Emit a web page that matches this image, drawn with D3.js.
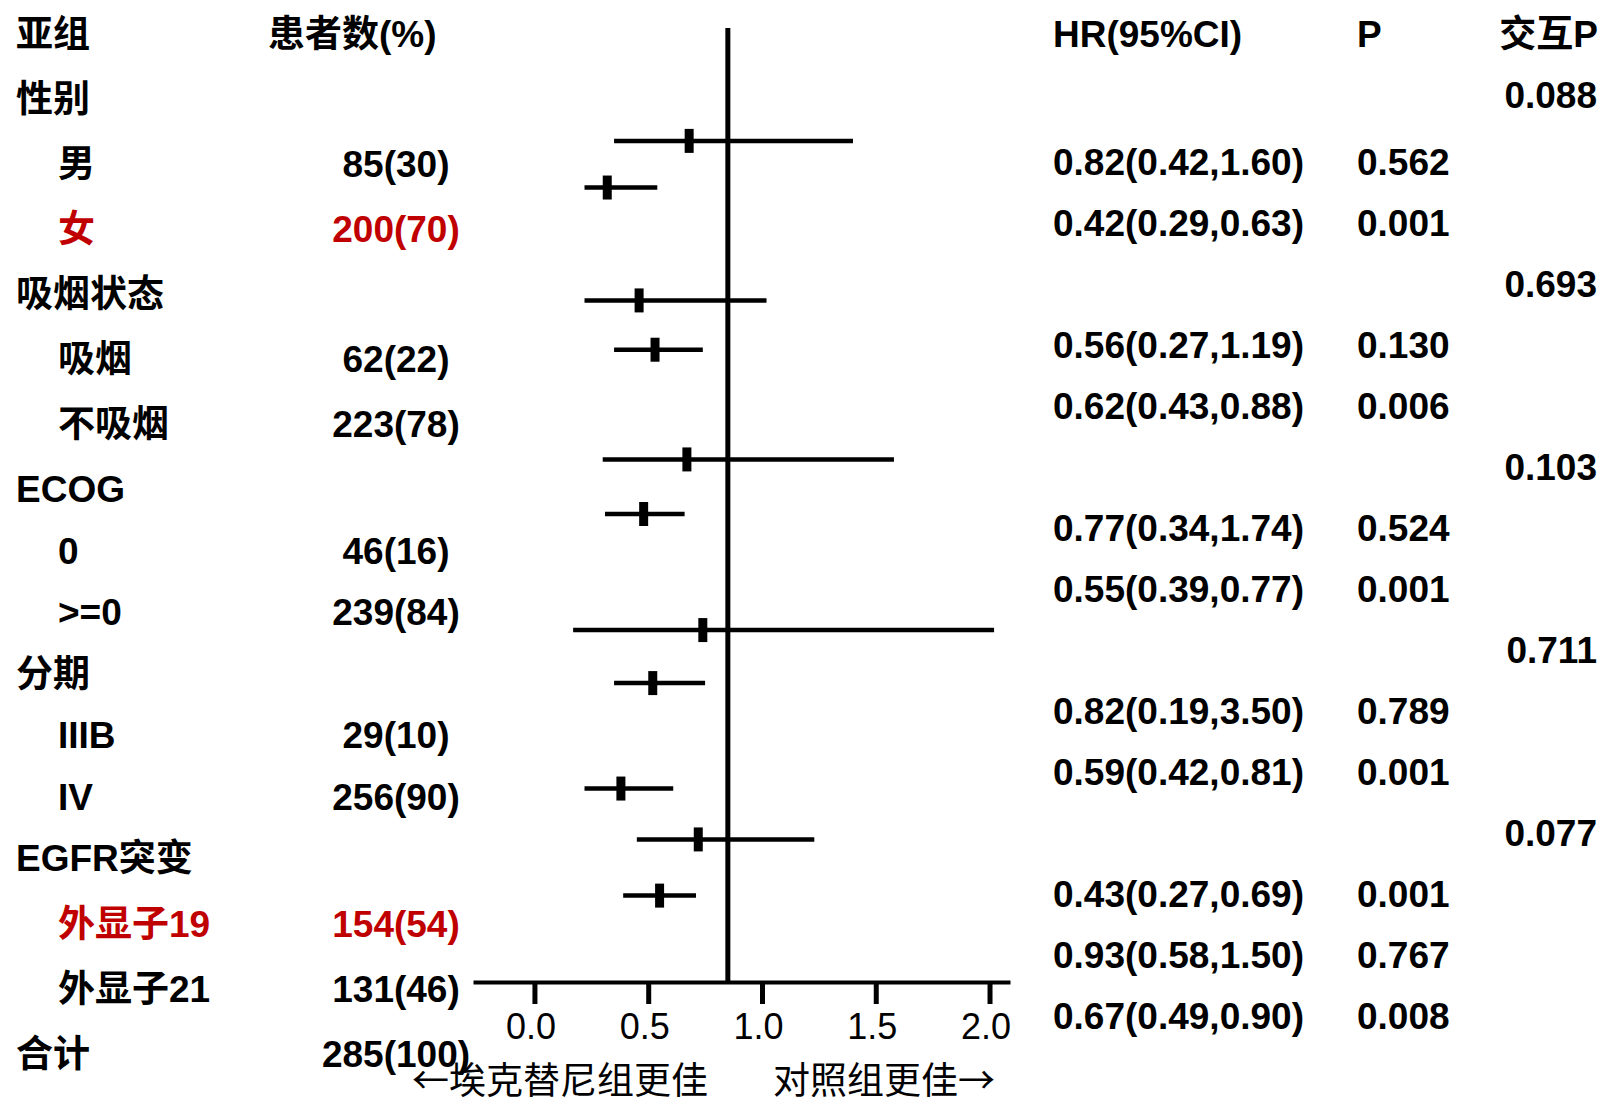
<!DOCTYPE html>
<html>
<head>
<meta charset="utf-8">
<script src="https://cdn.jsdelivr.net/npm/d3@7"></script>
<style>
  body { margin: 0; background: #fff; }
  .tbl { font-family: "Liberation Sans", "Noto Sans CJK SC", sans-serif; font-weight: bold; font-size: 37px; fill: #000; }
  .tick text { font-family: "Liberation Sans", sans-serif; font-size: 36px; fill: #000; }
  .note { font-family: "Noto Sans CJK SC", sans-serif; font-size: 37px; fill: #000; }
</style>
</head>
<body>
<div class="svg-container"></div>
<script>
// left table
var subgroups = ["性别", "男", "女", "吸烟状态", "吸烟", "不吸烟", "ECOG", "0", ">=0",
                 "分期", "IIIB", "IV", "EGFR突变", "外显子19", "外显子21", "合计"];
var isGroup = [1, 0, 0, 1, 0, 0, 1, 0, 0, 1, 0, 0, 1, 0, 0, 1];
var patients = ["", "85(30)", "200(70)", "", "62(22)", "223(78)", "", "46(16)", "239(84)",
                "", "29(10)", "256(90)", "", "154(54)", "131(46)", "285(100)"];
var highlighted = ["女", "外显子19"];

// right table
var hrText = ["", "0.82(0.42,1.60)", "0.42(0.29,0.63)", "", "0.56(0.27,1.19)", "0.62(0.43,0.88)",
              "", "0.77(0.34,1.74)", "0.55(0.39,0.77)", "", "0.82(0.19,3.50)", "0.59(0.42,0.81)",
              "", "0.43(0.27,0.69)", "0.93(0.58,1.50)", "0.67(0.49,0.90)"];
var pText = ["", "0.562", "0.001", "", "0.130", "0.006", "", "0.524", "0.001",
             "", "0.789", "0.001", "", "0.001", "0.767", "0.008"];
var interP = ["0.088", "", "", "0.693", "", "", "0.103", "", "",
              "0.711", "", "", "0.077", "", "", ""];

// forest plot marks (as drawn in the picture)
var barPos = [15.87, 14.99, 12.86, 11.93, 9.86, 8.83, 6.64, 5.64, 3.65, 2.69, 1.63];
var barHr  = [0.68, 0.32, 0.46, 0.53, 0.67, 0.48, 0.74, 0.52, 0.38, 0.72, 0.55];
var barLo  = [0.35, 0.22, 0.22, 0.35, 0.30, 0.31, 0.17, 0.35, 0.22, 0.45, 0.39];
var barHi  = [1.40, 0.54, 1.02, 0.74, 1.58, 0.66, 2.02, 0.75, 0.61, 1.23, 0.71];
var refValue = 0.85;
var xTicks = [0, 0.5, 1.0, 1.5, 2.0];

var width = 1604, height = 1097;

var svg = d3.select(".svg-container").append("svg")
            .attr("width", width)
            .attr("height", height);

// the two text tables use slightly different row spacing
var leftRow = d3.scaleLinear().domain([0, 7, 13, 16]).range([34, 489, 858, 1054]);
var rightRow = d3.scaleLinear().domain([0, 1, 2, 16]).range([34, 95, 161.6, 1016]);

var x = d3.scaleLinear().domain([-0.27, 2.09]).range([473, 1010]);
var y = d3.scaleLinear().domain([0, 18]).range([982, 28]);

var red = "#c00000";

// headers
var head = svg.append("g").attr("class", "tbl");
head.append("text").attr("x", 16).attr("y", leftRow(0)).attr("dy", "0.36em").text("亚组");
head.append("text").attr("x", 268).attr("y", leftRow(0)).attr("dy", "0.36em").text("患者数(%)");
head.append("text").attr("x", 1053).attr("y", rightRow(0)).attr("dy", "0.36em").text("HR(95%CI)");
head.append("text").attr("x", 1357).attr("y", rightRow(0)).attr("dy", "0.36em").text("P");
head.append("text").attr("x", 1598).attr("y", rightRow(0)).attr("dy", "0.36em")
    .attr("text-anchor", "end").text("交互P");

// left table rows
var left = svg.append("g").attr("class", "tbl");
subgroups.forEach(function(s, i) {
  var col = highlighted.indexOf(s) >= 0 ? red : "#000";
  left.append("text")
      .attr("x", isGroup[i] ? 16 : 58)
      .attr("y", leftRow(i + 1))
      .attr("dy", "0.36em")
      .style("fill", col)
      .text(s);
  if (patients[i]) {
    left.append("text")
        .attr("x", 396)
        .attr("y", leftRow(i + 1))
        .attr("dy", "0.36em")
        .attr("text-anchor", "middle")
        .style("fill", col)
        .text(patients[i]);
  }
});

// right table rows
var right = svg.append("g").attr("class", "tbl");
hrText.forEach(function(t, i) {
  var yy = rightRow(i + 1);
  if (t) right.append("text").attr("x", 1053).attr("y", yy).attr("dy", "0.36em").text(t);
  if (pText[i]) right.append("text").attr("x", 1357).attr("y", yy).attr("dy", "0.36em").text(pText[i]);
  if (interP[i]) right.append("text").attr("x", 1597).attr("y", yy).attr("dy", "0.36em")
                      .attr("text-anchor", "end").text(interP[i]);
});

// axis
var axis = svg.append("g")
              .attr("transform", "translate(0," + y(0) + ")")
              .call(d3.axisBottom(x)
                      .tickValues(xTicks)
                      .tickFormat(d3.format(".1f"))
                      .tickSize(22)
                      .tickSizeOuter(0)
                      .tickPadding(9));
axis.select(".domain").attr("stroke", "#000").attr("stroke-width", 4);
axis.selectAll(".tick line").attr("stroke", "#000").attr("stroke-width", 5);
axis.selectAll(".tick text").attr("dx", -4);

// reference line
svg.append("line")
   .attr("x1", x(refValue)).attr("x2", x(refValue))
   .attr("y1", y(18)).attr("y2", y(0))
   .attr("stroke", "#000").attr("stroke-width", 5);

// CI bars and point marks
var bars = svg.append("g");
barPos.forEach(function(p, i) {
  bars.append("line")
      .attr("x1", x(barLo[i])).attr("x2", x(barHi[i]))
      .attr("y1", y(p)).attr("y2", y(p))
      .attr("stroke", "#000").attr("stroke-width", 4.5);
  bars.append("line")
      .attr("x1", x(barHr[i])).attr("x2", x(barHr[i]))
      .attr("y1", y(p) - 12).attr("y2", y(p) + 12)
      .attr("stroke", "#000").attr("stroke-width", 9);
});

// direction notes
svg.append("text").attr("class", "note").attr("x", 412).attr("y", 1094).text("←埃克替尼组更佳");
svg.append("text").attr("class", "note").attr("x", 995).attr("y", 1094)
   .attr("text-anchor", "end").text("对照组更佳→");
</script>
</body>
</html>
